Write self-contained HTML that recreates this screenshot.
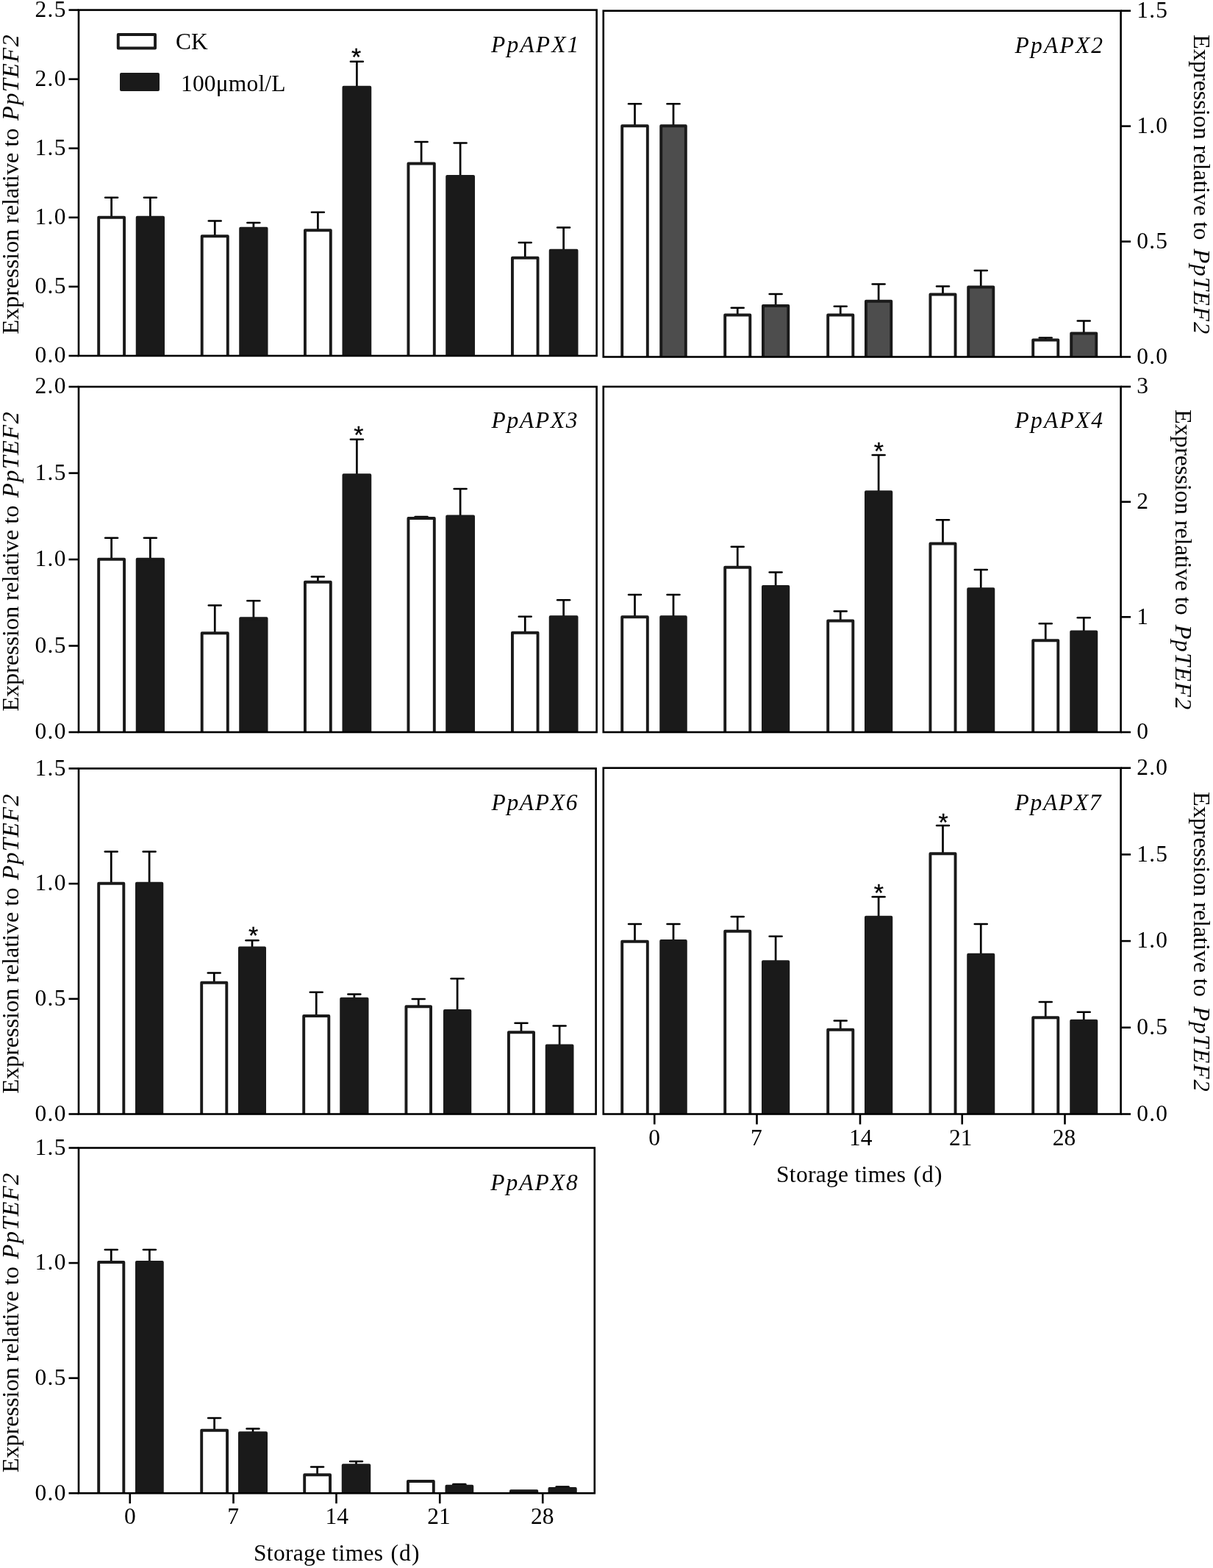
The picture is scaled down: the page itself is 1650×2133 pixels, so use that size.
<!DOCTYPE html>
<html lang="en">
<head>
<meta charset="utf-8">
<title>Expression of PpAPX genes relative to PpTEF2 during storage</title>
<style>
html,body{margin:0;padding:0;background:#fff;}
body{width:1650px;height:2133px;overflow:hidden;}
svg{display:block;}
text{white-space:pre;}
</style>
</head>
<body>
<svg width="1650" height="2133" viewBox="0 0 1650 2133" role="img" aria-label="Bar charts of PpAPX gene expression relative to PpTEF2 over storage time">
<rect x="0" y="0" width="1650" height="2133" fill="#ffffff"/>
<g>
<line x1="151.62" y1="268.75" x2="151.62" y2="294.80" stroke="#000000" stroke-width="2.7" stroke-linecap="butt"/>
<line x1="143.22" y1="268.75" x2="160.03" y2="268.75" stroke="#000000" stroke-width="2.7" stroke-linecap="round"/>
<polyline points="134.20,484.00 134.20,295.75 169.05,295.75 169.05,484.00" fill="#ffffff" stroke="#1a1a1a" stroke-width="3.9" stroke-linejoin="round"/>
<line x1="204.38" y1="268.75" x2="204.38" y2="294.80" stroke="#000000" stroke-width="2.7" stroke-linecap="butt"/>
<line x1="195.97" y1="268.75" x2="212.78" y2="268.75" stroke="#000000" stroke-width="2.7" stroke-linecap="round"/>
<polyline points="186.70,484.00 186.70,295.75 222.05,295.75 222.05,484.00" fill="#1a1a1a" stroke="#1a1a1a" stroke-width="3.9" stroke-linejoin="round"/>
<line x1="292.25" y1="300.50" x2="292.25" y2="320.30" stroke="#000000" stroke-width="2.7" stroke-linecap="butt"/>
<line x1="283.85" y1="300.50" x2="300.65" y2="300.50" stroke="#000000" stroke-width="2.7" stroke-linecap="round"/>
<polyline points="274.70,484.00 274.70,321.25 309.80,321.25 309.80,484.00" fill="#ffffff" stroke="#1a1a1a" stroke-width="3.9" stroke-linejoin="round"/>
<line x1="344.88" y1="303.00" x2="344.88" y2="309.80" stroke="#000000" stroke-width="2.7" stroke-linecap="butt"/>
<line x1="336.48" y1="303.00" x2="353.27" y2="303.00" stroke="#000000" stroke-width="2.7" stroke-linecap="round"/>
<polyline points="327.20,484.00 327.20,310.75 362.55,310.75 362.55,484.00" fill="#1a1a1a" stroke="#1a1a1a" stroke-width="3.9" stroke-linejoin="round"/>
<line x1="432.38" y1="288.75" x2="432.38" y2="312.30" stroke="#000000" stroke-width="2.7" stroke-linecap="butt"/>
<line x1="423.98" y1="288.75" x2="440.77" y2="288.75" stroke="#000000" stroke-width="2.7" stroke-linecap="round"/>
<polyline points="414.95,484.00 414.95,313.25 449.80,313.25 449.80,484.00" fill="#ffffff" stroke="#1a1a1a" stroke-width="3.9" stroke-linejoin="round"/>
<line x1="485.38" y1="83.75" x2="485.38" y2="117.80" stroke="#000000" stroke-width="2.7" stroke-linecap="butt"/>
<line x1="476.98" y1="83.75" x2="493.77" y2="83.75" stroke="#000000" stroke-width="2.7" stroke-linecap="round"/>
<polyline points="467.45,484.00 467.45,118.75 503.30,118.75 503.30,484.00" fill="#1a1a1a" stroke="#1a1a1a" stroke-width="3.9" stroke-linejoin="round"/>
<line x1="573.12" y1="193.00" x2="573.12" y2="221.55" stroke="#000000" stroke-width="2.7" stroke-linecap="butt"/>
<line x1="564.73" y1="193.00" x2="581.52" y2="193.00" stroke="#000000" stroke-width="2.7" stroke-linecap="round"/>
<polyline points="555.45,484.00 555.45,222.50 590.80,222.50 590.80,484.00" fill="#ffffff" stroke="#1a1a1a" stroke-width="3.9" stroke-linejoin="round"/>
<line x1="626.12" y1="194.50" x2="626.12" y2="239.05" stroke="#000000" stroke-width="2.7" stroke-linecap="butt"/>
<line x1="617.73" y1="194.50" x2="634.52" y2="194.50" stroke="#000000" stroke-width="2.7" stroke-linecap="round"/>
<polyline points="608.20,484.00 608.20,240.00 644.05,240.00 644.05,484.00" fill="#1a1a1a" stroke="#1a1a1a" stroke-width="3.9" stroke-linejoin="round"/>
<line x1="714.25" y1="330.00" x2="714.25" y2="349.80" stroke="#000000" stroke-width="2.7" stroke-linecap="butt"/>
<line x1="705.85" y1="330.00" x2="722.65" y2="330.00" stroke="#000000" stroke-width="2.7" stroke-linecap="round"/>
<polyline points="696.95,484.00 696.95,350.75 731.55,350.75 731.55,484.00" fill="#ffffff" stroke="#1a1a1a" stroke-width="3.9" stroke-linejoin="round"/>
<line x1="766.62" y1="309.50" x2="766.62" y2="339.80" stroke="#000000" stroke-width="2.7" stroke-linecap="butt"/>
<line x1="758.23" y1="309.50" x2="775.02" y2="309.50" stroke="#000000" stroke-width="2.7" stroke-linecap="round"/>
<polyline points="748.70,484.00 748.70,340.75 784.55,340.75 784.55,484.00" fill="#1a1a1a" stroke="#1a1a1a" stroke-width="3.9" stroke-linejoin="round"/>
<rect x="107.00" y="13.60" width="704.60" height="470.40" fill="none" stroke="#000000" stroke-width="2.6"/>
<line x1="93.50" y1="13.60" x2="107.00" y2="13.60" stroke="#000000" stroke-width="2.6" stroke-linecap="butt"/>
<text x="90.60" y="22.90" font-family="'Liberation Serif', serif" font-size="31.5" fill="#000000" text-anchor="end" letter-spacing="1.2">2.5</text>
<line x1="93.50" y1="107.68" x2="107.00" y2="107.68" stroke="#000000" stroke-width="2.6" stroke-linecap="butt"/>
<text x="90.60" y="116.98" font-family="'Liberation Serif', serif" font-size="31.5" fill="#000000" text-anchor="end" letter-spacing="1.2">2.0</text>
<line x1="93.50" y1="201.76" x2="107.00" y2="201.76" stroke="#000000" stroke-width="2.6" stroke-linecap="butt"/>
<text x="90.60" y="211.06" font-family="'Liberation Serif', serif" font-size="31.5" fill="#000000" text-anchor="end" letter-spacing="1.2">1.5</text>
<line x1="93.50" y1="295.84" x2="107.00" y2="295.84" stroke="#000000" stroke-width="2.6" stroke-linecap="butt"/>
<text x="90.60" y="305.14" font-family="'Liberation Serif', serif" font-size="31.5" fill="#000000" text-anchor="end" letter-spacing="1.2">1.0</text>
<line x1="93.50" y1="389.92" x2="107.00" y2="389.92" stroke="#000000" stroke-width="2.6" stroke-linecap="butt"/>
<text x="90.60" y="399.22" font-family="'Liberation Serif', serif" font-size="31.5" fill="#000000" text-anchor="end" letter-spacing="1.2">0.5</text>
<line x1="93.50" y1="484.00" x2="107.00" y2="484.00" stroke="#000000" stroke-width="2.6" stroke-linecap="butt"/>
<text x="90.60" y="493.30" font-family="'Liberation Serif', serif" font-size="31.5" fill="#000000" text-anchor="end" letter-spacing="1.2">0.0</text>
<text x="668.10" y="70.80" font-family="'Liberation Serif', serif" font-size="31.5" fill="#000000" text-anchor="start" font-style="italic" textLength="119.20" lengthAdjust="spacing">PpAPX1</text>
<text x="484.50" y="88.75" font-family="'Liberation Sans', sans-serif" font-size="34" fill="#000000" text-anchor="middle" stroke="#000000" stroke-width="0.3">*</text>
<text transform="translate(25.30 454.70) rotate(-90)" font-family="'Liberation Serif', serif" font-size="32.5" fill="#000000"><tspan x="0" y="0" textLength="280.10" lengthAdjust="spacing">Expression relative to</tspan><tspan x="281.25" y="0" font-style="italic" textLength="126.15" lengthAdjust="spacing"> PpTEF2</tspan></text>
</g>
<g>
<line x1="863.50" y1="141.25" x2="863.50" y2="170.35" stroke="#000000" stroke-width="2.7" stroke-linecap="butt"/>
<line x1="855.10" y1="141.25" x2="871.90" y2="141.25" stroke="#000000" stroke-width="2.7" stroke-linecap="round"/>
<polyline points="846.20,485.50 846.20,171.30 880.80,171.30 880.80,485.50" fill="#ffffff" stroke="#1a1a1a" stroke-width="3.9" stroke-linejoin="round"/>
<line x1="916.00" y1="141.25" x2="916.00" y2="170.35" stroke="#000000" stroke-width="2.7" stroke-linecap="butt"/>
<line x1="907.60" y1="141.25" x2="924.40" y2="141.25" stroke="#000000" stroke-width="2.7" stroke-linecap="round"/>
<polyline points="899.20,485.50 899.20,171.30 932.80,171.30 932.80,485.50" fill="#4d4d4d" stroke="#1a1a1a" stroke-width="3.9" stroke-linejoin="round"/>
<line x1="1003.25" y1="418.75" x2="1003.25" y2="427.60" stroke="#000000" stroke-width="2.7" stroke-linecap="butt"/>
<line x1="994.85" y1="418.75" x2="1011.65" y2="418.75" stroke="#000000" stroke-width="2.7" stroke-linecap="round"/>
<polyline points="986.20,485.50 986.20,428.55 1020.30,428.55 1020.30,485.50" fill="#ffffff" stroke="#1a1a1a" stroke-width="3.9" stroke-linejoin="round"/>
<line x1="1055.12" y1="400.00" x2="1055.12" y2="415.10" stroke="#000000" stroke-width="2.7" stroke-linecap="butt"/>
<line x1="1046.72" y1="400.00" x2="1063.53" y2="400.00" stroke="#000000" stroke-width="2.7" stroke-linecap="round"/>
<polyline points="1037.95,485.50 1037.95,416.05 1072.30,416.05 1072.30,485.50" fill="#4d4d4d" stroke="#1a1a1a" stroke-width="3.9" stroke-linejoin="round"/>
<line x1="1143.25" y1="416.75" x2="1143.25" y2="427.60" stroke="#000000" stroke-width="2.7" stroke-linecap="butt"/>
<line x1="1134.85" y1="416.75" x2="1151.65" y2="416.75" stroke="#000000" stroke-width="2.7" stroke-linecap="round"/>
<polyline points="1126.20,485.50 1126.20,428.55 1160.30,428.55 1160.30,485.50" fill="#ffffff" stroke="#1a1a1a" stroke-width="3.9" stroke-linejoin="round"/>
<line x1="1195.12" y1="386.50" x2="1195.12" y2="408.85" stroke="#000000" stroke-width="2.7" stroke-linecap="butt"/>
<line x1="1186.72" y1="386.50" x2="1203.53" y2="386.50" stroke="#000000" stroke-width="2.7" stroke-linecap="round"/>
<polyline points="1177.95,485.50 1177.95,409.80 1212.30,409.80 1212.30,485.50" fill="#4d4d4d" stroke="#1a1a1a" stroke-width="3.9" stroke-linejoin="round"/>
<line x1="1282.50" y1="389.50" x2="1282.50" y2="399.60" stroke="#000000" stroke-width="2.7" stroke-linecap="butt"/>
<line x1="1274.10" y1="389.50" x2="1290.90" y2="389.50" stroke="#000000" stroke-width="2.7" stroke-linecap="round"/>
<polyline points="1265.45,485.50 1265.45,400.55 1299.55,400.55 1299.55,485.50" fill="#ffffff" stroke="#1a1a1a" stroke-width="3.9" stroke-linejoin="round"/>
<line x1="1334.25" y1="368.00" x2="1334.25" y2="389.60" stroke="#000000" stroke-width="2.7" stroke-linecap="butt"/>
<line x1="1325.85" y1="368.00" x2="1342.65" y2="368.00" stroke="#000000" stroke-width="2.7" stroke-linecap="round"/>
<polyline points="1317.20,485.50 1317.20,390.55 1351.30,390.55 1351.30,485.50" fill="#4d4d4d" stroke="#1a1a1a" stroke-width="3.9" stroke-linejoin="round"/>
<line x1="1422.25" y1="459.50" x2="1422.25" y2="461.60" stroke="#000000" stroke-width="2.7" stroke-linecap="butt"/>
<line x1="1413.85" y1="459.50" x2="1430.65" y2="459.50" stroke="#000000" stroke-width="2.7" stroke-linecap="round"/>
<polyline points="1405.20,485.50 1405.20,462.55 1439.30,462.55 1439.30,485.50" fill="#ffffff" stroke="#1a1a1a" stroke-width="3.9" stroke-linejoin="round"/>
<line x1="1474.25" y1="436.50" x2="1474.25" y2="452.60" stroke="#000000" stroke-width="2.7" stroke-linecap="butt"/>
<line x1="1465.85" y1="436.50" x2="1482.65" y2="436.50" stroke="#000000" stroke-width="2.7" stroke-linecap="round"/>
<polyline points="1457.20,485.50 1457.20,453.55 1491.30,453.55 1491.30,485.50" fill="#4d4d4d" stroke="#1a1a1a" stroke-width="3.9" stroke-linejoin="round"/>
<rect x="820.75" y="14.70" width="703.85" height="470.80" fill="none" stroke="#000000" stroke-width="2.6"/>
<line x1="1524.60" y1="14.70" x2="1538.10" y2="14.70" stroke="#000000" stroke-width="2.6" stroke-linecap="butt"/>
<text x="1546.20" y="24.00" font-family="'Liberation Serif', serif" font-size="31.5" fill="#000000" text-anchor="start" letter-spacing="1.2">1.5</text>
<line x1="1524.60" y1="171.63" x2="1538.10" y2="171.63" stroke="#000000" stroke-width="2.6" stroke-linecap="butt"/>
<text x="1546.20" y="180.93" font-family="'Liberation Serif', serif" font-size="31.5" fill="#000000" text-anchor="start" letter-spacing="1.2">1.0</text>
<line x1="1524.60" y1="328.57" x2="1538.10" y2="328.57" stroke="#000000" stroke-width="2.6" stroke-linecap="butt"/>
<text x="1546.20" y="337.87" font-family="'Liberation Serif', serif" font-size="31.5" fill="#000000" text-anchor="start" letter-spacing="1.2">0.5</text>
<line x1="1524.60" y1="485.50" x2="1538.10" y2="485.50" stroke="#000000" stroke-width="2.6" stroke-linecap="butt"/>
<text x="1546.20" y="494.80" font-family="'Liberation Serif', serif" font-size="31.5" fill="#000000" text-anchor="start" letter-spacing="1.2">0.0</text>
<text x="1380.60" y="72.40" font-family="'Liberation Serif', serif" font-size="31.5" fill="#000000" text-anchor="start" font-style="italic" textLength="119.50" lengthAdjust="spacing">PpAPX2</text>
<text transform="translate(1623.80 47.10) rotate(90)" font-family="'Liberation Serif', serif" font-size="32.5" fill="#000000"><tspan x="0" y="0" textLength="279.40" lengthAdjust="spacing">Expression relative to</tspan><tspan x="282.05" y="0" font-style="italic" textLength="125.10" lengthAdjust="spacing"> PpTEF2</tspan></text>
</g>
<g>
<line x1="151.62" y1="731.75" x2="151.62" y2="759.80" stroke="#000000" stroke-width="2.7" stroke-linecap="butt"/>
<line x1="143.22" y1="731.75" x2="160.03" y2="731.75" stroke="#000000" stroke-width="2.7" stroke-linecap="round"/>
<polyline points="134.20,996.00 134.20,760.75 169.05,760.75 169.05,996.00" fill="#ffffff" stroke="#1a1a1a" stroke-width="3.9" stroke-linejoin="round"/>
<line x1="204.38" y1="731.75" x2="204.38" y2="759.80" stroke="#000000" stroke-width="2.7" stroke-linecap="butt"/>
<line x1="195.97" y1="731.75" x2="212.78" y2="731.75" stroke="#000000" stroke-width="2.7" stroke-linecap="round"/>
<polyline points="186.70,996.00 186.70,760.75 222.05,760.75 222.05,996.00" fill="#1a1a1a" stroke="#1a1a1a" stroke-width="3.9" stroke-linejoin="round"/>
<line x1="292.25" y1="823.50" x2="292.25" y2="860.30" stroke="#000000" stroke-width="2.7" stroke-linecap="butt"/>
<line x1="283.85" y1="823.50" x2="300.65" y2="823.50" stroke="#000000" stroke-width="2.7" stroke-linecap="round"/>
<polyline points="274.70,996.00 274.70,861.25 309.80,861.25 309.80,996.00" fill="#ffffff" stroke="#1a1a1a" stroke-width="3.9" stroke-linejoin="round"/>
<line x1="344.88" y1="817.25" x2="344.88" y2="840.30" stroke="#000000" stroke-width="2.7" stroke-linecap="butt"/>
<line x1="336.48" y1="817.25" x2="353.27" y2="817.25" stroke="#000000" stroke-width="2.7" stroke-linecap="round"/>
<polyline points="327.20,996.00 327.20,841.25 362.55,841.25 362.55,996.00" fill="#1a1a1a" stroke="#1a1a1a" stroke-width="3.9" stroke-linejoin="round"/>
<line x1="432.38" y1="784.50" x2="432.38" y2="790.80" stroke="#000000" stroke-width="2.7" stroke-linecap="butt"/>
<line x1="423.98" y1="784.50" x2="440.77" y2="784.50" stroke="#000000" stroke-width="2.7" stroke-linecap="round"/>
<polyline points="414.95,996.00 414.95,791.75 449.80,791.75 449.80,996.00" fill="#ffffff" stroke="#1a1a1a" stroke-width="3.9" stroke-linejoin="round"/>
<line x1="485.38" y1="597.75" x2="485.38" y2="645.30" stroke="#000000" stroke-width="2.7" stroke-linecap="butt"/>
<line x1="476.98" y1="597.75" x2="493.77" y2="597.75" stroke="#000000" stroke-width="2.7" stroke-linecap="round"/>
<polyline points="467.45,996.00 467.45,646.25 503.30,646.25 503.30,996.00" fill="#1a1a1a" stroke="#1a1a1a" stroke-width="3.9" stroke-linejoin="round"/>
<line x1="573.12" y1="703.00" x2="573.12" y2="704.05" stroke="#000000" stroke-width="2.7" stroke-linecap="butt"/>
<line x1="564.73" y1="703.00" x2="581.52" y2="703.00" stroke="#000000" stroke-width="2.7" stroke-linecap="round"/>
<polyline points="555.45,996.00 555.45,705.00 590.80,705.00 590.80,996.00" fill="#ffffff" stroke="#1a1a1a" stroke-width="3.9" stroke-linejoin="round"/>
<line x1="626.12" y1="665.00" x2="626.12" y2="701.55" stroke="#000000" stroke-width="2.7" stroke-linecap="butt"/>
<line x1="617.73" y1="665.00" x2="634.52" y2="665.00" stroke="#000000" stroke-width="2.7" stroke-linecap="round"/>
<polyline points="608.20,996.00 608.20,702.50 644.05,702.50 644.05,996.00" fill="#1a1a1a" stroke="#1a1a1a" stroke-width="3.9" stroke-linejoin="round"/>
<line x1="714.25" y1="838.75" x2="714.25" y2="859.80" stroke="#000000" stroke-width="2.7" stroke-linecap="butt"/>
<line x1="705.85" y1="838.75" x2="722.65" y2="838.75" stroke="#000000" stroke-width="2.7" stroke-linecap="round"/>
<polyline points="696.95,996.00 696.95,860.75 731.55,860.75 731.55,996.00" fill="#ffffff" stroke="#1a1a1a" stroke-width="3.9" stroke-linejoin="round"/>
<line x1="766.62" y1="816.25" x2="766.62" y2="838.30" stroke="#000000" stroke-width="2.7" stroke-linecap="butt"/>
<line x1="758.23" y1="816.25" x2="775.02" y2="816.25" stroke="#000000" stroke-width="2.7" stroke-linecap="round"/>
<polyline points="748.70,996.00 748.70,839.25 784.55,839.25 784.55,996.00" fill="#1a1a1a" stroke="#1a1a1a" stroke-width="3.9" stroke-linejoin="round"/>
<rect x="107.00" y="526.10" width="704.60" height="469.90" fill="none" stroke="#000000" stroke-width="2.6"/>
<line x1="93.50" y1="526.10" x2="107.00" y2="526.10" stroke="#000000" stroke-width="2.6" stroke-linecap="butt"/>
<text x="90.60" y="535.40" font-family="'Liberation Serif', serif" font-size="31.5" fill="#000000" text-anchor="end" letter-spacing="1.2">2.0</text>
<line x1="93.50" y1="643.58" x2="107.00" y2="643.58" stroke="#000000" stroke-width="2.6" stroke-linecap="butt"/>
<text x="90.60" y="652.88" font-family="'Liberation Serif', serif" font-size="31.5" fill="#000000" text-anchor="end" letter-spacing="1.2">1.5</text>
<line x1="93.50" y1="761.05" x2="107.00" y2="761.05" stroke="#000000" stroke-width="2.6" stroke-linecap="butt"/>
<text x="90.60" y="770.35" font-family="'Liberation Serif', serif" font-size="31.5" fill="#000000" text-anchor="end" letter-spacing="1.2">1.0</text>
<line x1="93.50" y1="878.52" x2="107.00" y2="878.52" stroke="#000000" stroke-width="2.6" stroke-linecap="butt"/>
<text x="90.60" y="887.82" font-family="'Liberation Serif', serif" font-size="31.5" fill="#000000" text-anchor="end" letter-spacing="1.2">0.5</text>
<line x1="93.50" y1="996.00" x2="107.00" y2="996.00" stroke="#000000" stroke-width="2.6" stroke-linecap="butt"/>
<text x="90.60" y="1005.30" font-family="'Liberation Serif', serif" font-size="31.5" fill="#000000" text-anchor="end" letter-spacing="1.2">0.0</text>
<text x="668.50" y="582.30" font-family="'Liberation Serif', serif" font-size="31.5" fill="#000000" text-anchor="start" font-style="italic" textLength="117.10" lengthAdjust="spacing">PpAPX3</text>
<text x="487.75" y="603.00" font-family="'Liberation Sans', sans-serif" font-size="34" fill="#000000" text-anchor="middle" stroke="#000000" stroke-width="0.3">*</text>
<text transform="translate(25.30 967.70) rotate(-90)" font-family="'Liberation Serif', serif" font-size="32.5" fill="#000000"><tspan x="0" y="0" textLength="280.10" lengthAdjust="spacing">Expression relative to</tspan><tspan x="281.25" y="0" font-style="italic" textLength="126.15" lengthAdjust="spacing"> PpTEF2</tspan></text>
</g>
<g>
<line x1="863.50" y1="809.00" x2="863.50" y2="838.30" stroke="#000000" stroke-width="2.7" stroke-linecap="butt"/>
<line x1="855.10" y1="809.00" x2="871.90" y2="809.00" stroke="#000000" stroke-width="2.7" stroke-linecap="round"/>
<polyline points="846.20,996.00 846.20,839.25 880.80,839.25 880.80,996.00" fill="#ffffff" stroke="#1a1a1a" stroke-width="3.9" stroke-linejoin="round"/>
<line x1="916.00" y1="809.00" x2="916.00" y2="838.30" stroke="#000000" stroke-width="2.7" stroke-linecap="butt"/>
<line x1="907.60" y1="809.00" x2="924.40" y2="809.00" stroke="#000000" stroke-width="2.7" stroke-linecap="round"/>
<polyline points="899.20,996.00 899.20,839.25 932.80,839.25 932.80,996.00" fill="#1a1a1a" stroke="#1a1a1a" stroke-width="3.9" stroke-linejoin="round"/>
<line x1="1003.25" y1="743.75" x2="1003.25" y2="770.80" stroke="#000000" stroke-width="2.7" stroke-linecap="butt"/>
<line x1="994.85" y1="743.75" x2="1011.65" y2="743.75" stroke="#000000" stroke-width="2.7" stroke-linecap="round"/>
<polyline points="986.20,996.00 986.20,771.75 1020.30,771.75 1020.30,996.00" fill="#ffffff" stroke="#1a1a1a" stroke-width="3.9" stroke-linejoin="round"/>
<line x1="1055.12" y1="778.50" x2="1055.12" y2="797.05" stroke="#000000" stroke-width="2.7" stroke-linecap="butt"/>
<line x1="1046.72" y1="778.50" x2="1063.53" y2="778.50" stroke="#000000" stroke-width="2.7" stroke-linecap="round"/>
<polyline points="1037.95,996.00 1037.95,798.00 1072.30,798.00 1072.30,996.00" fill="#1a1a1a" stroke="#1a1a1a" stroke-width="3.9" stroke-linejoin="round"/>
<line x1="1143.25" y1="831.50" x2="1143.25" y2="843.55" stroke="#000000" stroke-width="2.7" stroke-linecap="butt"/>
<line x1="1134.85" y1="831.50" x2="1151.65" y2="831.50" stroke="#000000" stroke-width="2.7" stroke-linecap="round"/>
<polyline points="1126.20,996.00 1126.20,844.50 1160.30,844.50 1160.30,996.00" fill="#ffffff" stroke="#1a1a1a" stroke-width="3.9" stroke-linejoin="round"/>
<line x1="1195.12" y1="619.00" x2="1195.12" y2="668.30" stroke="#000000" stroke-width="2.7" stroke-linecap="butt"/>
<line x1="1186.72" y1="619.00" x2="1203.53" y2="619.00" stroke="#000000" stroke-width="2.7" stroke-linecap="round"/>
<polyline points="1177.95,996.00 1177.95,669.25 1212.30,669.25 1212.30,996.00" fill="#1a1a1a" stroke="#1a1a1a" stroke-width="3.9" stroke-linejoin="round"/>
<line x1="1282.50" y1="707.25" x2="1282.50" y2="738.55" stroke="#000000" stroke-width="2.7" stroke-linecap="butt"/>
<line x1="1274.10" y1="707.25" x2="1290.90" y2="707.25" stroke="#000000" stroke-width="2.7" stroke-linecap="round"/>
<polyline points="1265.45,996.00 1265.45,739.50 1299.55,739.50 1299.55,996.00" fill="#ffffff" stroke="#1a1a1a" stroke-width="3.9" stroke-linejoin="round"/>
<line x1="1334.25" y1="775.00" x2="1334.25" y2="800.30" stroke="#000000" stroke-width="2.7" stroke-linecap="butt"/>
<line x1="1325.85" y1="775.00" x2="1342.65" y2="775.00" stroke="#000000" stroke-width="2.7" stroke-linecap="round"/>
<polyline points="1317.20,996.00 1317.20,801.25 1351.30,801.25 1351.30,996.00" fill="#1a1a1a" stroke="#1a1a1a" stroke-width="3.9" stroke-linejoin="round"/>
<line x1="1422.25" y1="848.25" x2="1422.25" y2="870.30" stroke="#000000" stroke-width="2.7" stroke-linecap="butt"/>
<line x1="1413.85" y1="848.25" x2="1430.65" y2="848.25" stroke="#000000" stroke-width="2.7" stroke-linecap="round"/>
<polyline points="1405.20,996.00 1405.20,871.25 1439.30,871.25 1439.30,996.00" fill="#ffffff" stroke="#1a1a1a" stroke-width="3.9" stroke-linejoin="round"/>
<line x1="1474.25" y1="840.25" x2="1474.25" y2="858.55" stroke="#000000" stroke-width="2.7" stroke-linecap="butt"/>
<line x1="1465.85" y1="840.25" x2="1482.65" y2="840.25" stroke="#000000" stroke-width="2.7" stroke-linecap="round"/>
<polyline points="1457.20,996.00 1457.20,859.50 1491.30,859.50 1491.30,996.00" fill="#1a1a1a" stroke="#1a1a1a" stroke-width="3.9" stroke-linejoin="round"/>
<rect x="820.75" y="526.00" width="703.85" height="470.00" fill="none" stroke="#000000" stroke-width="2.6"/>
<line x1="1524.60" y1="526.00" x2="1538.10" y2="526.00" stroke="#000000" stroke-width="2.6" stroke-linecap="butt"/>
<text x="1546.20" y="535.30" font-family="'Liberation Serif', serif" font-size="31.5" fill="#000000" text-anchor="start" letter-spacing="1.2">3</text>
<line x1="1524.60" y1="682.67" x2="1538.10" y2="682.67" stroke="#000000" stroke-width="2.6" stroke-linecap="butt"/>
<text x="1546.20" y="691.97" font-family="'Liberation Serif', serif" font-size="31.5" fill="#000000" text-anchor="start" letter-spacing="1.2">2</text>
<line x1="1524.60" y1="839.33" x2="1538.10" y2="839.33" stroke="#000000" stroke-width="2.6" stroke-linecap="butt"/>
<text x="1546.20" y="848.63" font-family="'Liberation Serif', serif" font-size="31.5" fill="#000000" text-anchor="start" letter-spacing="1.2">1</text>
<line x1="1524.60" y1="996.00" x2="1538.10" y2="996.00" stroke="#000000" stroke-width="2.6" stroke-linecap="butt"/>
<text x="1546.20" y="1005.30" font-family="'Liberation Serif', serif" font-size="31.5" fill="#000000" text-anchor="start" letter-spacing="1.2">0</text>
<text x="1380.60" y="582.40" font-family="'Liberation Serif', serif" font-size="31.5" fill="#000000" text-anchor="start" font-style="italic" textLength="119.50" lengthAdjust="spacing">PpAPX4</text>
<text x="1195.25" y="624.50" font-family="'Liberation Sans', sans-serif" font-size="34" fill="#000000" text-anchor="middle" stroke="#000000" stroke-width="0.3">*</text>
<text transform="translate(1598.80 557.10) rotate(90)" font-family="'Liberation Serif', serif" font-size="32.5" fill="#000000"><tspan x="0" y="0" textLength="279.70" lengthAdjust="spacing">Expression relative to</tspan><tspan x="283.33" y="0" font-style="italic" textLength="124.87" lengthAdjust="spacing"> PpTEF2</tspan></text>
</g>
<g>
<line x1="151.25" y1="1158.50" x2="151.25" y2="1200.80" stroke="#000000" stroke-width="2.7" stroke-linecap="butt"/>
<line x1="142.85" y1="1158.50" x2="159.65" y2="1158.50" stroke="#000000" stroke-width="2.7" stroke-linecap="round"/>
<polyline points="134.20,1515.50 134.20,1201.75 168.30,1201.75 168.30,1515.50" fill="#ffffff" stroke="#1a1a1a" stroke-width="3.9" stroke-linejoin="round"/>
<line x1="203.12" y1="1158.50" x2="203.12" y2="1200.80" stroke="#000000" stroke-width="2.7" stroke-linecap="butt"/>
<line x1="194.72" y1="1158.50" x2="211.53" y2="1158.50" stroke="#000000" stroke-width="2.7" stroke-linecap="round"/>
<polyline points="185.95,1515.50 185.95,1201.75 220.30,1201.75 220.30,1515.50" fill="#1a1a1a" stroke="#1a1a1a" stroke-width="3.9" stroke-linejoin="round"/>
<line x1="291.25" y1="1323.50" x2="291.25" y2="1335.80" stroke="#000000" stroke-width="2.7" stroke-linecap="butt"/>
<line x1="282.85" y1="1323.50" x2="299.65" y2="1323.50" stroke="#000000" stroke-width="2.7" stroke-linecap="round"/>
<polyline points="274.20,1515.50 274.20,1336.75 308.30,1336.75 308.30,1515.50" fill="#ffffff" stroke="#1a1a1a" stroke-width="3.9" stroke-linejoin="round"/>
<line x1="343.00" y1="1279.25" x2="343.00" y2="1288.55" stroke="#000000" stroke-width="2.7" stroke-linecap="butt"/>
<line x1="334.60" y1="1279.25" x2="351.40" y2="1279.25" stroke="#000000" stroke-width="2.7" stroke-linecap="round"/>
<polyline points="325.95,1515.50 325.95,1289.50 360.05,1289.50 360.05,1515.50" fill="#1a1a1a" stroke="#1a1a1a" stroke-width="3.9" stroke-linejoin="round"/>
<line x1="430.25" y1="1349.75" x2="430.25" y2="1381.05" stroke="#000000" stroke-width="2.7" stroke-linecap="butt"/>
<line x1="421.85" y1="1349.75" x2="438.65" y2="1349.75" stroke="#000000" stroke-width="2.7" stroke-linecap="round"/>
<polyline points="413.20,1515.50 413.20,1382.00 447.30,1382.00 447.30,1515.50" fill="#ffffff" stroke="#1a1a1a" stroke-width="3.9" stroke-linejoin="round"/>
<line x1="481.88" y1="1352.50" x2="481.88" y2="1357.80" stroke="#000000" stroke-width="2.7" stroke-linecap="butt"/>
<line x1="473.48" y1="1352.50" x2="490.27" y2="1352.50" stroke="#000000" stroke-width="2.7" stroke-linecap="round"/>
<polyline points="464.20,1515.50 464.20,1358.75 499.55,1358.75 499.55,1515.50" fill="#1a1a1a" stroke="#1a1a1a" stroke-width="3.9" stroke-linejoin="round"/>
<line x1="569.25" y1="1359.00" x2="569.25" y2="1368.30" stroke="#000000" stroke-width="2.7" stroke-linecap="butt"/>
<line x1="560.85" y1="1359.00" x2="577.65" y2="1359.00" stroke="#000000" stroke-width="2.7" stroke-linecap="round"/>
<polyline points="552.45,1515.50 552.45,1369.25 586.05,1369.25 586.05,1515.50" fill="#ffffff" stroke="#1a1a1a" stroke-width="3.9" stroke-linejoin="round"/>
<line x1="622.12" y1="1331.25" x2="622.12" y2="1374.05" stroke="#000000" stroke-width="2.7" stroke-linecap="butt"/>
<line x1="613.73" y1="1331.25" x2="630.52" y2="1331.25" stroke="#000000" stroke-width="2.7" stroke-linecap="round"/>
<polyline points="604.95,1515.50 604.95,1375.00 639.30,1375.00 639.30,1515.50" fill="#1a1a1a" stroke="#1a1a1a" stroke-width="3.9" stroke-linejoin="round"/>
<line x1="709.00" y1="1391.75" x2="709.00" y2="1403.30" stroke="#000000" stroke-width="2.7" stroke-linecap="butt"/>
<line x1="700.60" y1="1391.75" x2="717.40" y2="1391.75" stroke="#000000" stroke-width="2.7" stroke-linecap="round"/>
<polyline points="691.95,1515.50 691.95,1404.25 726.05,1404.25 726.05,1515.50" fill="#ffffff" stroke="#1a1a1a" stroke-width="3.9" stroke-linejoin="round"/>
<line x1="761.12" y1="1395.50" x2="761.12" y2="1421.55" stroke="#000000" stroke-width="2.7" stroke-linecap="butt"/>
<line x1="752.73" y1="1395.50" x2="769.52" y2="1395.50" stroke="#000000" stroke-width="2.7" stroke-linecap="round"/>
<polyline points="743.70,1515.50 743.70,1422.50 778.55,1422.50 778.55,1515.50" fill="#1a1a1a" stroke="#1a1a1a" stroke-width="3.9" stroke-linejoin="round"/>
<rect x="107.00" y="1045.40" width="703.60" height="470.10" fill="none" stroke="#000000" stroke-width="2.6"/>
<line x1="93.50" y1="1045.40" x2="107.00" y2="1045.40" stroke="#000000" stroke-width="2.6" stroke-linecap="butt"/>
<text x="90.60" y="1054.70" font-family="'Liberation Serif', serif" font-size="31.5" fill="#000000" text-anchor="end" letter-spacing="1.2">1.5</text>
<line x1="93.50" y1="1202.10" x2="107.00" y2="1202.10" stroke="#000000" stroke-width="2.6" stroke-linecap="butt"/>
<text x="90.60" y="1211.40" font-family="'Liberation Serif', serif" font-size="31.5" fill="#000000" text-anchor="end" letter-spacing="1.2">1.0</text>
<line x1="93.50" y1="1358.80" x2="107.00" y2="1358.80" stroke="#000000" stroke-width="2.6" stroke-linecap="butt"/>
<text x="90.60" y="1368.10" font-family="'Liberation Serif', serif" font-size="31.5" fill="#000000" text-anchor="end" letter-spacing="1.2">0.5</text>
<line x1="93.50" y1="1515.50" x2="107.00" y2="1515.50" stroke="#000000" stroke-width="2.6" stroke-linecap="butt"/>
<text x="90.60" y="1524.80" font-family="'Liberation Serif', serif" font-size="31.5" fill="#000000" text-anchor="end" letter-spacing="1.2">0.0</text>
<text x="668.50" y="1101.80" font-family="'Liberation Serif', serif" font-size="31.5" fill="#000000" text-anchor="start" font-style="italic" textLength="116.90" lengthAdjust="spacing">PpAPX6</text>
<text x="344.50" y="1283.75" font-family="'Liberation Sans', sans-serif" font-size="34" fill="#000000" text-anchor="middle" stroke="#000000" stroke-width="0.3">*</text>
<text transform="translate(25.30 1487.70) rotate(-90)" font-family="'Liberation Serif', serif" font-size="32.5" fill="#000000"><tspan x="0" y="0" textLength="280.10" lengthAdjust="spacing">Expression relative to</tspan><tspan x="281.25" y="0" font-style="italic" textLength="126.15" lengthAdjust="spacing"> PpTEF2</tspan></text>
</g>
<g>
<line x1="863.50" y1="1257.00" x2="863.50" y2="1279.80" stroke="#000000" stroke-width="2.7" stroke-linecap="butt"/>
<line x1="855.10" y1="1257.00" x2="871.90" y2="1257.00" stroke="#000000" stroke-width="2.7" stroke-linecap="round"/>
<polyline points="846.20,1515.50 846.20,1280.75 880.80,1280.75 880.80,1515.50" fill="#ffffff" stroke="#1a1a1a" stroke-width="3.9" stroke-linejoin="round"/>
<line x1="916.00" y1="1257.00" x2="916.00" y2="1279.05" stroke="#000000" stroke-width="2.7" stroke-linecap="butt"/>
<line x1="907.60" y1="1257.00" x2="924.40" y2="1257.00" stroke="#000000" stroke-width="2.7" stroke-linecap="round"/>
<polyline points="899.20,1515.50 899.20,1280.00 932.80,1280.00 932.80,1515.50" fill="#1a1a1a" stroke="#1a1a1a" stroke-width="3.9" stroke-linejoin="round"/>
<line x1="1003.25" y1="1247.00" x2="1003.25" y2="1265.80" stroke="#000000" stroke-width="2.7" stroke-linecap="butt"/>
<line x1="994.85" y1="1247.00" x2="1011.65" y2="1247.00" stroke="#000000" stroke-width="2.7" stroke-linecap="round"/>
<polyline points="986.20,1515.50 986.20,1266.75 1020.30,1266.75 1020.30,1515.50" fill="#ffffff" stroke="#1a1a1a" stroke-width="3.9" stroke-linejoin="round"/>
<line x1="1055.12" y1="1273.75" x2="1055.12" y2="1307.30" stroke="#000000" stroke-width="2.7" stroke-linecap="butt"/>
<line x1="1046.72" y1="1273.75" x2="1063.53" y2="1273.75" stroke="#000000" stroke-width="2.7" stroke-linecap="round"/>
<polyline points="1037.95,1515.50 1037.95,1308.25 1072.30,1308.25 1072.30,1515.50" fill="#1a1a1a" stroke="#1a1a1a" stroke-width="3.9" stroke-linejoin="round"/>
<line x1="1143.25" y1="1388.50" x2="1143.25" y2="1399.80" stroke="#000000" stroke-width="2.7" stroke-linecap="butt"/>
<line x1="1134.85" y1="1388.50" x2="1151.65" y2="1388.50" stroke="#000000" stroke-width="2.7" stroke-linecap="round"/>
<polyline points="1126.20,1515.50 1126.20,1400.75 1160.30,1400.75 1160.30,1515.50" fill="#ffffff" stroke="#1a1a1a" stroke-width="3.9" stroke-linejoin="round"/>
<line x1="1195.12" y1="1220.00" x2="1195.12" y2="1246.80" stroke="#000000" stroke-width="2.7" stroke-linecap="butt"/>
<line x1="1186.72" y1="1220.00" x2="1203.53" y2="1220.00" stroke="#000000" stroke-width="2.7" stroke-linecap="round"/>
<polyline points="1177.95,1515.50 1177.95,1247.75 1212.30,1247.75 1212.30,1515.50" fill="#1a1a1a" stroke="#1a1a1a" stroke-width="3.9" stroke-linejoin="round"/>
<line x1="1282.50" y1="1123.00" x2="1282.50" y2="1160.30" stroke="#000000" stroke-width="2.7" stroke-linecap="butt"/>
<line x1="1274.10" y1="1123.00" x2="1290.90" y2="1123.00" stroke="#000000" stroke-width="2.7" stroke-linecap="round"/>
<polyline points="1265.45,1515.50 1265.45,1161.25 1299.55,1161.25 1299.55,1515.50" fill="#ffffff" stroke="#1a1a1a" stroke-width="3.9" stroke-linejoin="round"/>
<line x1="1334.25" y1="1257.00" x2="1334.25" y2="1297.80" stroke="#000000" stroke-width="2.7" stroke-linecap="butt"/>
<line x1="1325.85" y1="1257.00" x2="1342.65" y2="1257.00" stroke="#000000" stroke-width="2.7" stroke-linecap="round"/>
<polyline points="1317.20,1515.50 1317.20,1298.75 1351.30,1298.75 1351.30,1515.50" fill="#1a1a1a" stroke="#1a1a1a" stroke-width="3.9" stroke-linejoin="round"/>
<line x1="1422.25" y1="1363.00" x2="1422.25" y2="1383.30" stroke="#000000" stroke-width="2.7" stroke-linecap="butt"/>
<line x1="1413.85" y1="1363.00" x2="1430.65" y2="1363.00" stroke="#000000" stroke-width="2.7" stroke-linecap="round"/>
<polyline points="1405.20,1515.50 1405.20,1384.25 1439.30,1384.25 1439.30,1515.50" fill="#ffffff" stroke="#1a1a1a" stroke-width="3.9" stroke-linejoin="round"/>
<line x1="1474.25" y1="1376.75" x2="1474.25" y2="1387.80" stroke="#000000" stroke-width="2.7" stroke-linecap="butt"/>
<line x1="1465.85" y1="1376.75" x2="1482.65" y2="1376.75" stroke="#000000" stroke-width="2.7" stroke-linecap="round"/>
<polyline points="1457.20,1515.50 1457.20,1388.75 1491.30,1388.75 1491.30,1515.50" fill="#1a1a1a" stroke="#1a1a1a" stroke-width="3.9" stroke-linejoin="round"/>
<rect x="820.75" y="1044.70" width="703.85" height="470.80" fill="none" stroke="#000000" stroke-width="2.6"/>
<line x1="1524.60" y1="1044.70" x2="1538.10" y2="1044.70" stroke="#000000" stroke-width="2.6" stroke-linecap="butt"/>
<text x="1546.20" y="1054.00" font-family="'Liberation Serif', serif" font-size="31.5" fill="#000000" text-anchor="start" letter-spacing="1.2">2.0</text>
<line x1="1524.60" y1="1162.40" x2="1538.10" y2="1162.40" stroke="#000000" stroke-width="2.6" stroke-linecap="butt"/>
<text x="1546.20" y="1171.70" font-family="'Liberation Serif', serif" font-size="31.5" fill="#000000" text-anchor="start" letter-spacing="1.2">1.5</text>
<line x1="1524.60" y1="1280.10" x2="1538.10" y2="1280.10" stroke="#000000" stroke-width="2.6" stroke-linecap="butt"/>
<text x="1546.20" y="1289.40" font-family="'Liberation Serif', serif" font-size="31.5" fill="#000000" text-anchor="start" letter-spacing="1.2">1.0</text>
<line x1="1524.60" y1="1397.80" x2="1538.10" y2="1397.80" stroke="#000000" stroke-width="2.6" stroke-linecap="butt"/>
<text x="1546.20" y="1407.10" font-family="'Liberation Serif', serif" font-size="31.5" fill="#000000" text-anchor="start" letter-spacing="1.2">0.5</text>
<line x1="1524.60" y1="1515.50" x2="1538.10" y2="1515.50" stroke="#000000" stroke-width="2.6" stroke-linecap="butt"/>
<text x="1546.20" y="1524.80" font-family="'Liberation Serif', serif" font-size="31.5" fill="#000000" text-anchor="start" letter-spacing="1.2">0.0</text>
<line x1="890.25" y1="1515.50" x2="890.25" y2="1529.50" stroke="#000000" stroke-width="2.6" stroke-linecap="butt"/>
<text x="890.00" y="1558.00" font-family="'Liberation Serif', serif" font-size="31.5" fill="#000000" text-anchor="middle">0</text>
<line x1="1029.50" y1="1515.50" x2="1029.50" y2="1529.50" stroke="#000000" stroke-width="2.6" stroke-linecap="butt"/>
<text x="1028.75" y="1558.00" font-family="'Liberation Serif', serif" font-size="31.5" fill="#000000" text-anchor="middle">7</text>
<line x1="1170.00" y1="1515.50" x2="1170.00" y2="1529.50" stroke="#000000" stroke-width="2.6" stroke-linecap="butt"/>
<text x="1170.75" y="1558.00" font-family="'Liberation Serif', serif" font-size="31.5" fill="#000000" text-anchor="middle">14</text>
<line x1="1308.75" y1="1515.50" x2="1308.75" y2="1529.50" stroke="#000000" stroke-width="2.6" stroke-linecap="butt"/>
<text x="1306.75" y="1558.00" font-family="'Liberation Serif', serif" font-size="31.5" fill="#000000" text-anchor="middle">21</text>
<line x1="1448.50" y1="1515.50" x2="1448.50" y2="1529.50" stroke="#000000" stroke-width="2.6" stroke-linecap="butt"/>
<text x="1447.50" y="1558.00" font-family="'Liberation Serif', serif" font-size="31.5" fill="#000000" text-anchor="middle">28</text>
<text transform="translate(1056.00 1608.10)" font-family="'Liberation Serif', serif" font-size="31.5" fill="#000000"><tspan x="0" y="0" textLength="176.00" lengthAdjust="spacing">Storage times</tspan><tspan x="177.34" y="0" textLength="48.16" lengthAdjust="spacing"> (d)</tspan></text>
<text x="1380.60" y="1102.40" font-family="'Liberation Serif', serif" font-size="31.5" fill="#000000" text-anchor="start" font-style="italic" textLength="117.00" lengthAdjust="spacing">PpAPX7</text>
<text x="1195.25" y="1225.50" font-family="'Liberation Sans', sans-serif" font-size="34" fill="#000000" text-anchor="middle" stroke="#000000" stroke-width="0.3">*</text>
<text x="1283.00" y="1129.50" font-family="'Liberation Sans', sans-serif" font-size="34" fill="#000000" text-anchor="middle" stroke="#000000" stroke-width="0.3">*</text>
<text transform="translate(1623.80 1077.10) rotate(90)" font-family="'Liberation Serif', serif" font-size="32.5" fill="#000000"><tspan x="0" y="0" textLength="278.80" lengthAdjust="spacing">Expression relative to</tspan><tspan x="282.55" y="0" font-style="italic" textLength="125.10" lengthAdjust="spacing"> PpTEF2</tspan></text>
</g>
<g>
<line x1="151.25" y1="1700.00" x2="151.25" y2="1716.05" stroke="#000000" stroke-width="2.7" stroke-linecap="butt"/>
<line x1="142.85" y1="1700.00" x2="159.65" y2="1700.00" stroke="#000000" stroke-width="2.7" stroke-linecap="round"/>
<polyline points="134.20,2031.25 134.20,1717.00 168.30,1717.00 168.30,2031.25" fill="#ffffff" stroke="#1a1a1a" stroke-width="3.9" stroke-linejoin="round"/>
<line x1="203.38" y1="1700.00" x2="203.38" y2="1716.05" stroke="#000000" stroke-width="2.7" stroke-linecap="butt"/>
<line x1="194.97" y1="1700.00" x2="211.78" y2="1700.00" stroke="#000000" stroke-width="2.7" stroke-linecap="round"/>
<polyline points="185.95,2031.25 185.95,1717.00 220.80,1717.00 220.80,2031.25" fill="#1a1a1a" stroke="#1a1a1a" stroke-width="3.9" stroke-linejoin="round"/>
<line x1="291.62" y1="1929.00" x2="291.62" y2="1944.80" stroke="#000000" stroke-width="2.7" stroke-linecap="butt"/>
<line x1="283.23" y1="1929.00" x2="300.02" y2="1929.00" stroke="#000000" stroke-width="2.7" stroke-linecap="round"/>
<polyline points="274.20,2031.25 274.20,1945.75 309.05,1945.75 309.05,2031.25" fill="#ffffff" stroke="#1a1a1a" stroke-width="3.9" stroke-linejoin="round"/>
<line x1="344.00" y1="1943.50" x2="344.00" y2="1948.30" stroke="#000000" stroke-width="2.7" stroke-linecap="butt"/>
<line x1="335.60" y1="1943.50" x2="352.40" y2="1943.50" stroke="#000000" stroke-width="2.7" stroke-linecap="round"/>
<polyline points="325.95,2031.25 325.95,1949.25 362.05,1949.25 362.05,2031.25" fill="#1a1a1a" stroke="#1a1a1a" stroke-width="3.9" stroke-linejoin="round"/>
<line x1="431.62" y1="1995.50" x2="431.62" y2="2005.30" stroke="#000000" stroke-width="2.7" stroke-linecap="butt"/>
<line x1="423.23" y1="1995.50" x2="440.02" y2="1995.50" stroke="#000000" stroke-width="2.7" stroke-linecap="round"/>
<polyline points="414.20,2031.25 414.20,2006.25 449.05,2006.25 449.05,2031.25" fill="#ffffff" stroke="#1a1a1a" stroke-width="3.9" stroke-linejoin="round"/>
<line x1="484.50" y1="1988.00" x2="484.50" y2="1992.30" stroke="#000000" stroke-width="2.7" stroke-linecap="butt"/>
<line x1="476.10" y1="1988.00" x2="492.90" y2="1988.00" stroke="#000000" stroke-width="2.7" stroke-linecap="round"/>
<polyline points="466.70,2031.25 466.70,1993.25 502.30,1993.25 502.30,2031.25" fill="#1a1a1a" stroke="#1a1a1a" stroke-width="3.9" stroke-linejoin="round"/>
<polyline points="554.95,2031.25 554.95,2015.00 589.80,2015.00 589.80,2031.25" fill="#ffffff" stroke="#1a1a1a" stroke-width="3.9" stroke-linejoin="round"/>
<line x1="624.88" y1="2019.20" x2="624.88" y2="2020.80" stroke="#000000" stroke-width="2.7" stroke-linecap="butt"/>
<line x1="616.48" y1="2019.20" x2="633.27" y2="2019.20" stroke="#000000" stroke-width="2.7" stroke-linecap="round"/>
<polyline points="607.45,2031.25 607.45,2021.75 642.30,2021.75 642.30,2031.25" fill="#1a1a1a" stroke="#1a1a1a" stroke-width="3.9" stroke-linejoin="round"/>
<polyline points="694.95,2031.25 694.95,2028.25 730.30,2028.25 730.30,2031.25" fill="#ffffff" stroke="#1a1a1a" stroke-width="3.9" stroke-linejoin="round"/>
<line x1="765.12" y1="2022.70" x2="765.12" y2="2024.05" stroke="#000000" stroke-width="2.7" stroke-linecap="butt"/>
<line x1="756.73" y1="2022.70" x2="773.52" y2="2022.70" stroke="#000000" stroke-width="2.7" stroke-linecap="round"/>
<polyline points="747.45,2031.25 747.45,2025.00 782.80,2025.00 782.80,2031.25" fill="#1a1a1a" stroke="#1a1a1a" stroke-width="3.9" stroke-linejoin="round"/>
<rect x="107.00" y="1561.50" width="701.80" height="469.75" fill="none" stroke="#000000" stroke-width="2.6"/>
<line x1="93.50" y1="1561.50" x2="107.00" y2="1561.50" stroke="#000000" stroke-width="2.6" stroke-linecap="butt"/>
<text x="90.60" y="1570.80" font-family="'Liberation Serif', serif" font-size="31.5" fill="#000000" text-anchor="end" letter-spacing="1.2">1.5</text>
<line x1="93.50" y1="1718.08" x2="107.00" y2="1718.08" stroke="#000000" stroke-width="2.6" stroke-linecap="butt"/>
<text x="90.60" y="1727.38" font-family="'Liberation Serif', serif" font-size="31.5" fill="#000000" text-anchor="end" letter-spacing="1.2">1.0</text>
<line x1="93.50" y1="1874.67" x2="107.00" y2="1874.67" stroke="#000000" stroke-width="2.6" stroke-linecap="butt"/>
<text x="90.60" y="1883.97" font-family="'Liberation Serif', serif" font-size="31.5" fill="#000000" text-anchor="end" letter-spacing="1.2">0.5</text>
<line x1="93.50" y1="2031.25" x2="107.00" y2="2031.25" stroke="#000000" stroke-width="2.6" stroke-linecap="butt"/>
<text x="90.60" y="2040.55" font-family="'Liberation Serif', serif" font-size="31.5" fill="#000000" text-anchor="end" letter-spacing="1.2">0.0</text>
<line x1="176.75" y1="2031.25" x2="176.75" y2="2045.25" stroke="#000000" stroke-width="2.6" stroke-linecap="butt"/>
<text x="176.75" y="2073.25" font-family="'Liberation Serif', serif" font-size="31.5" fill="#000000" text-anchor="middle">0</text>
<line x1="317.50" y1="2031.25" x2="317.50" y2="2045.25" stroke="#000000" stroke-width="2.6" stroke-linecap="butt"/>
<text x="317.00" y="2073.25" font-family="'Liberation Serif', serif" font-size="31.5" fill="#000000" text-anchor="middle">7</text>
<line x1="457.50" y1="2031.25" x2="457.50" y2="2045.25" stroke="#000000" stroke-width="2.6" stroke-linecap="butt"/>
<text x="458.25" y="2073.25" font-family="'Liberation Serif', serif" font-size="31.5" fill="#000000" text-anchor="middle">14</text>
<line x1="598.25" y1="2031.25" x2="598.25" y2="2045.25" stroke="#000000" stroke-width="2.6" stroke-linecap="butt"/>
<text x="597.00" y="2073.25" font-family="'Liberation Serif', serif" font-size="31.5" fill="#000000" text-anchor="middle">21</text>
<line x1="738.25" y1="2031.25" x2="738.25" y2="2045.25" stroke="#000000" stroke-width="2.6" stroke-linecap="butt"/>
<text x="737.75" y="2073.25" font-family="'Liberation Serif', serif" font-size="31.5" fill="#000000" text-anchor="middle">28</text>
<text transform="translate(345.00 2122.70)" font-family="'Liberation Serif', serif" font-size="31.5" fill="#000000"><tspan x="0" y="0" textLength="176.00" lengthAdjust="spacing">Storage times</tspan><tspan x="177.34" y="0" textLength="48.16" lengthAdjust="spacing"> (d)</tspan></text>
<text x="667.20" y="1618.50" font-family="'Liberation Serif', serif" font-size="31.5" fill="#000000" text-anchor="start" font-style="italic" textLength="118.60" lengthAdjust="spacing">PpAPX8</text>
<text transform="translate(25.30 2003.20) rotate(-90)" font-family="'Liberation Serif', serif" font-size="32.5" fill="#000000"><tspan x="0" y="0" textLength="280.10" lengthAdjust="spacing">Expression relative to</tspan><tspan x="281.25" y="0" font-style="italic" textLength="126.15" lengthAdjust="spacing"> PpTEF2</tspan></text>
</g>
<g>
<rect x="160.75" y="46.95" width="50.300000000000004" height="18.6" fill="#fff" stroke="#1a1a1a" stroke-width="3.9" stroke-linejoin="round"/>
<rect x="164.95" y="100.95" width="50.1" height="21.1" fill="#1a1a1a" stroke="#1a1a1a" stroke-width="3.9" stroke-linejoin="round"/>
<text x="239.00" y="67.00" font-family="'Liberation Serif', serif" font-size="31.5" fill="#000000" text-anchor="start" textLength="43.75" lengthAdjust="spacing">CK</text>
<text x="246.00" y="124.00" font-family="'Liberation Serif', serif" font-size="31.5" fill="#000000" text-anchor="start" textLength="142.50" lengthAdjust="spacing">100μmol/L</text>
</g>
</svg>
</body>
</html>
